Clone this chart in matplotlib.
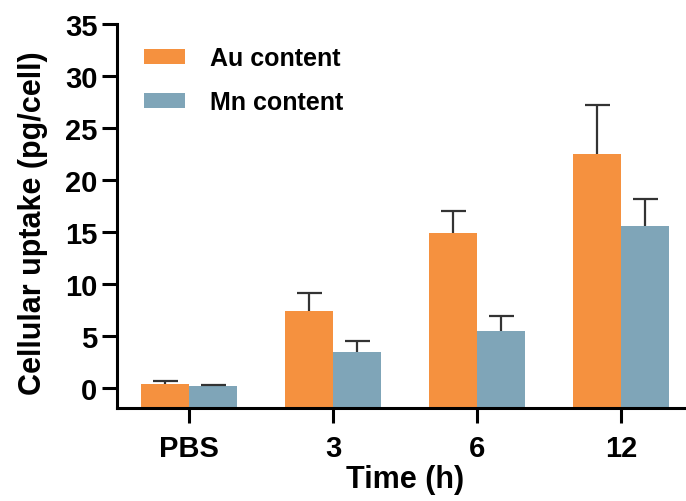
import numpy as np
import matplotlib.pyplot as plt

plt.rcParams['font.family'] = ['Liberation Sans', 'DejaVu Sans']
plt.rcParams['font.weight'] = 'bold'

groups = ['PBS', '3', '6', '12']
au_mean = [0.45, 7.4, 14.9, 22.5]
au_err = [0.25, 1.8, 2.15, 4.7]
mn_mean = [0.22, 3.5, 5.5, 15.55]
mn_err = [0.1, 1.0, 1.45, 2.65]

orange = '#F5913F'
blue = '#7FA5B8'
base = -1.9

fig = plt.figure(figsize=(6.86, 5.02), dpi=100)
ax = fig.add_axes([0.1706, 0.1853, 0.8396, 0.7647])

x = np.arange(len(groups))
w = 1 / 3

ax.bar(x - w / 2, np.array(au_mean) - base, w, bottom=base, color=orange,
       label='Au content', zorder=2)
ax.bar(x + w / 2, np.array(mn_mean) - base, w, bottom=base, color=blue,
       label='Mn content', zorder=2)

# upper error bars only: hide the lower cap that errorbar draws at the bar top
err_kw = dict(fmt='none', ecolor='#333333', elinewidth=1.6, capsize=9,
              capthick=1.6, zorder=3)
for xs, m, e in [(x - w / 2, au_mean, au_err), (x + w / 2, mn_mean, mn_err)]:
    eb = ax.errorbar(xs, m, yerr=[np.zeros(len(m)), e], **err_kw)
    eb[1][0].set_visible(False)

ax.set_xlim(-0.5, 3.5)
ax.set_ylim(base, 35)
ax.set_yticks(np.arange(0, 36, 5))
ax.set_xticks(x)
ax.set_xticklabels(groups)

for side in ['top', 'right']:
    ax.spines[side].set_visible(False)
for side in ['left', 'bottom']:
    ax.spines[side].set_linewidth(2.2)
ax.spines['left'].set_bounds(base, 35)

ax.tick_params(axis='both', width=2.2, length=11, labelsize=21)
ax.tick_params(axis='y', pad=3)
ax.tick_params(axis='x', pad=8)

ax.set_xlabel('Time (h)', fontsize=22, fontweight='bold', labelpad=1)
ax.set_ylabel('Cellular uptake (pg/cell)', fontsize=22, fontweight='bold')
ax.yaxis.set_label_coords(-0.12, 0.484)

ax.legend(loc='upper left', bbox_to_anchor=(0.047, 0.942), frameon=False,
          fontsize=18, handlelength=1.64, handleheight=0.56, handletextpad=1.0,
          labelspacing=0.8, borderpad=0, borderaxespad=0)

fig.savefig('out.png', dpi=100)
